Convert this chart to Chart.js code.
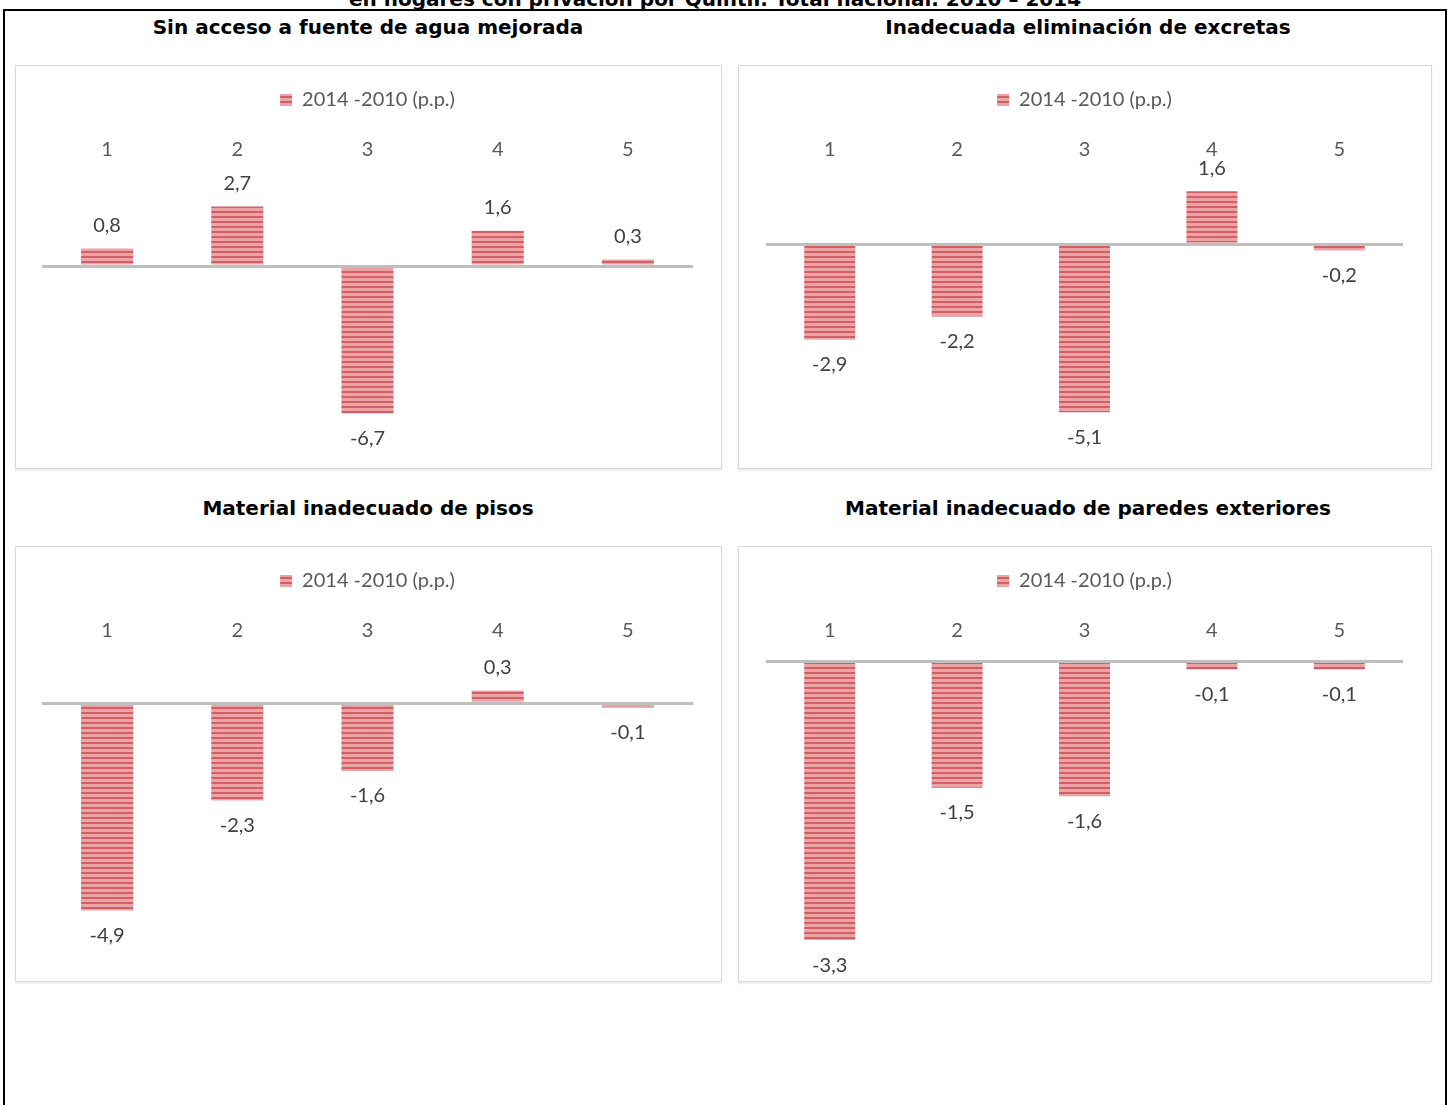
<!DOCTYPE html>
<html><head><meta charset="utf-8">
<script src="https://cdn.jsdelivr.net/npm/chart.js@4.4.1/dist/chart.umd.min.js"></script>
<style>
html,body{margin:0;padding:0;background:#fff;width:1450px;height:1105px;overflow:hidden;position:relative;}
#frame{position:absolute;left:3px;top:9px;width:1444px;height:1200px;border:2px solid #000;box-sizing:border-box;}
.ttl{position:absolute;font-family:"DejaVu Sans",sans-serif;font-weight:bold;font-size:20px;color:#000;white-space:nowrap;transform:translateX(-50%);line-height:22px;}
.box{position:absolute;border:1px solid #d9d9d9;box-shadow:0 2px 2px rgba(0,0,0,0.08);background:#fff;box-sizing:border-box;}
.box canvas{position:absolute;left:0;top:0;}
</style></head>
<body>
<div id="frame"></div>
<div class="ttl" style="left:715px;top:-12px;">en hogares con privación por Quintil. Total nacional. 2010 – 2014</div>
<div class="ttl" style="left:368px;top:16px;">Sin acceso a fuente de agua mejorada</div>
<div class="ttl" style="left:1088px;top:16px;">Inadecuada eliminación de excretas</div>
<div class="ttl" style="left:368px;top:497px;">Material inadecuado de pisos</div>
<div class="ttl" style="left:1088px;top:497px;">Material inadecuado de paredes exteriores</div>

<div class="box" style="left:15px;top:65px;width:707px;height:404px;"><div style="position:absolute;left:0;top:0;width:705px;height:402px;"><canvas id="c1"></canvas></div></div>
<div class="box" style="left:738px;top:65px;width:694px;height:404px;"><div style="position:absolute;left:0;top:0;width:692px;height:402px;"><canvas id="c2"></canvas></div></div>
<div class="box" style="left:15px;top:546px;width:707px;height:436px;"><div style="position:absolute;left:0;top:0;width:705px;height:434px;"><canvas id="c3"></canvas></div></div>
<div class="box" style="left:738px;top:546px;width:694px;height:436px;"><div style="position:absolute;left:0;top:0;width:692px;height:434px;"><canvas id="c4"></canvas></div></div>

<script>
// ---- data ----
const categories = ['1', '2', '3', '4', '5'];
const seriesLabel = '2014 -2010 (p.p.)';
const agua     = [0.8, 2.7, -6.7, 1.6, 0.3];
const excretas = [-2.9, -2.2, -5.1, 1.6, -0.2];
const pisos    = [-4.9, -2.3, -1.6, 0.3, -0.1];
const paredes  = [-3.3, -1.5, -1.6, -0.1, -0.1];
const aguaAxis     = [-8, 4];
const excretasAxis = [-6, 2];
const pisosAxis    = [-6, 1];
const paredesAxis  = [-3.5, 0];

function stripes() {
  const c = document.createElement('canvas');
  c.width = 5; c.height = 5;
  const g = c.getContext('2d');
  g.fillStyle = '#eda2a5'; g.fillRect(0, 0, 5, 5);
  g.fillStyle = '#cf6066'; g.fillRect(0, 0, 5, 2);
  return g.createPattern(c, 'repeat');
}

const valueLabels = {
  id: 'valueLabels',
  afterDatasetsDraw(chart) {
    const ctx = chart.ctx;
    const meta = chart.getDatasetMeta(0);
    const data = chart.data.datasets[0].data;
    ctx.save();
    ctx.font = '20px Lato';
    ctx.fillStyle = '#404040';
    ctx.textAlign = 'center';
    ctx.textBaseline = 'middle';
    meta.data.forEach((bar, i) => {
      const v = data[i];
      const txt = v.toFixed(1).replace('.', ',');
      const y = v >= 0 ? bar.y - 23 : bar.y + 25;
      ctx.fillText(txt, bar.x, y);
    });
    ctx.restore();
  }
};

function makeChart(id, values, range, step, layout) {
  new Chart(document.getElementById(id), {
    type: 'bar',
    data: {
      labels: categories,
      datasets: [{
        label: seriesLabel,
        data: values,
        backgroundColor: stripes(),
        borderWidth: 0,
        categoryPercentage: 0.8,
        barPercentage: 0.5
      }]
    },
    options: {
      responsive: true,
      maintainAspectRatio: false,
      animation: false,
      layout: { padding: { top: 14, left: layout.left, right: layout.right, bottom: layout.bottom } },
      plugins: {
        legend: {
          position: 'top',
          labels: { font: { family: 'Lato', size: 20 }, color: '#595959', boxWidth: 12, boxHeight: 12, padding: 10 }
        },
        tooltip: { enabled: false },
        title: { display: false }
      },
      scales: {
        x: {
          position: 'top',
          grid: { display: false, drawTicks: false },
          border: { display: false },
          ticks: { font: { family: 'Lato', size: 20 }, color: '#595959', padding: layout.tickPad },
          afterFit: s => { s.height = layout.xh; }
        },
        y: {
          min: range[0], max: range[1],
          ticks: { display: false, stepSize: step },
          border: { display: false },
          grid: {
            drawTicks: false,
            z: 1,
            lineWidth: 3,
            color: c => (c.tick && c.tick.value === 0) ? '#bfbfbf' : 'rgba(0,0,0,0)'
          }
        }
      }
    },
    plugins: [valueLabels]
  });
}

makeChart('c1', agua, aguaAxis, 1, { left: 26, right: 28, bottom: 26, tickPad: 16, xh: 58 });
makeChart('c2', excretas, excretasAxis, 1, { left: 27, right: 28, bottom: 26, tickPad: 16, xh: 58 });
makeChart('c3', pisos, pisosAxis, 1, { left: 26, right: 28, bottom: 24, tickPad: 18, xh: 60 });
makeChart('c4', paredes, paredesAxis, 0.5, { left: 27, right: 28, bottom: 24, tickPad: 18, xh: 60 });
</script>
</body></html>
